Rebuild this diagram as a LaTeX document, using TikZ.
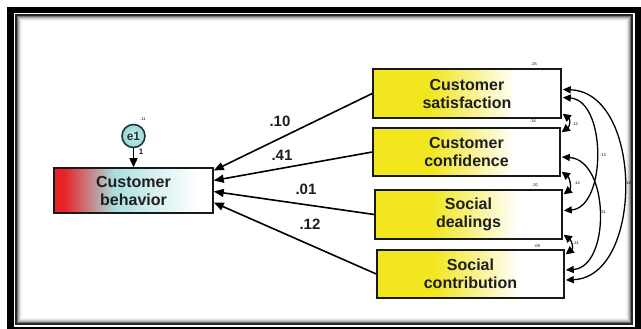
\documentclass[tikz,border=0pt]{standalone}
\usepackage{fontspec}
\setmainfont{Liberation Sans}
\usetikzlibrary{arrows.meta}
\definecolor{yel}{RGB}{242,230,30}
\definecolor{cbred}{RGB}{230,35,40}
\definecolor{cbcyan}{RGB}{170,222,222}
\definecolor{e1fill}{RGB}{150,215,215}
\definecolor{e1line}{RGB}{25,55,55}
\definecolor{txt}{RGB}{30,30,30}
\pgfdeclarehorizontalshading{yelshade}{100bp}{color(0bp)=(yel); color(25bp)=(yel); color(40bp)=(yel); color(63bp)=(white); color(100bp)=(white)}
\pgfdeclarehorizontalshading{cbshade}{100bp}{color(0bp)=(cbred); color(25bp)=(cbred); color(28bp)=(cbred); color(44bp)=(cbcyan); color(56bp)=(cbcyan!50!white); color(70bp)=(white); color(100bp)=(white)}
\begin{document}
\begin{tikzpicture}[x=1pt,y=-1pt,
  box/.style={draw=black!90, line width=1.5pt, inner sep=0pt, align=center,
    font=\fontsize{16}{18}\selectfont\bfseries, text=txt, shade, shading=yelshade},
  pathar/.style={line width=1.6pt, -{Triangle[length=10pt,width=8pt]}},
  cov/.style={line width=1.3pt, {Triangle[length=8pt,width=7pt]}-{Triangle[length=8pt,width=7pt]}},
  covs/.style={line width=1.3pt, {Triangle[length=8pt,width=8pt]}-{Triangle[length=8pt,width=8pt]}},
  coef/.style={font=\fontsize{15}{15}\selectfont\bfseries, text=txt},
  tiny/.style={font=\fontsize{4}{4}\selectfont, text=black, inner sep=0pt}]
\useasboundingbox (0,0) rectangle (641,329);
% frame
\fill[black] (7,7) rectangle (641,329);
\fill[white] (13.5,13) rectangle (634.5,326.5);
\fill[black!85] (15,14.5) rectangle (633,325);
\fill[white] (17,16.5) rectangle (631,323);
\foreach \i/\c in {0/55,1/35,2/20,3/10,4/4}
  \draw[black!\c, line width=1pt] (17.5+\i,17+\i) rectangle (630.5-\i,322.5-\i);
% nodes
\node[box, minimum width=159pt, minimum height=45pt, shading=cbshade] (cb) at (133.5,190.5) {Customer\\behavior};
\node[box, minimum width=188pt, minimum height=49pt] (cs) at (467,93.5) {Customer\\satisfaction};
\node[box, minimum width=187pt, minimum height=48pt] (cc) at (466.5,152) {Customer\\confidence};
\node[box, minimum width=187pt, minimum height=49pt] (sd) at (468.5,214.5) {Social\\dealings};
\node[box, minimum width=187pt, minimum height=48pt] (sc) at (470.5,274) {Social\\contribution};
\node[circle, draw=e1line, line width=1.6pt, inner color=white!55!e1fill, outer color=e1fill,
  minimum size=23pt, inner sep=0pt, font=\fontsize{12}{12}\selectfont\bfseries, text=e1line] (e1) at (133.5,136) {e1};
% error arrow
\draw[line width=1.4pt, -{Triangle[length=9pt,width=8pt]}] (e1) -- (cb);
\node[font=\fontsize{8}{8}\selectfont\bfseries, text=txt, inner sep=0pt] (one) at (141,152) {1};
\node[tiny] (r0) at (143,119) {.11};
% paths
\draw[pathar] (cs.west) -- ([yshift=20pt]cb.east);
\draw[pathar] (cc.west) -- ([yshift=10pt]cb.east);
\draw[pathar] (sd.west) -- ([yshift=-1pt]cb.east);
\draw[pathar] (sc.west) -- ([yshift=-12pt]cb.east);
\node[coef] (p1) at (280,121) {.10};
\node[coef] (p2) at (282,155) {.41};
\node[coef] (p3) at (306,189) {.01};
\node[coef] (p4) at (310,224) {.12};
% covariances
\draw[cov] ([xshift=1pt,yshift=4pt]cs.east) .. controls +(81,3) and +(78,-3) .. ([xshift=1pt,yshift=-6pt]sc.east);
\draw[cov] ([xshift=1pt,yshift=-4pt]cs.east) .. controls +(44,3) and +(43,-3) .. ([xshift=1pt,yshift=4pt]sd.east);
\draw[cov] ([xshift=1pt,yshift=-5pt]cc.east) .. controls +(48,3) and +(45,-3) .. ([xshift=1pt,yshift=4pt]sc.east);
\draw[covs] ([xshift=1pt,yshift=5pt]cs.south east) .. controls +(8,6) and +(8,-6) .. ([xshift=1pt,yshift=-5pt]cc.north east);
\draw[covs] ([xshift=1pt,yshift=5pt]cc.south east) .. controls +(8,6) and +(8,-6) .. ([xshift=1pt,yshift=-5pt]sd.north east);
\draw[covs] ([xshift=1pt,yshift=5pt]sd.south east) .. controls +(8,6) and +(8,-6) .. ([xshift=1pt,yshift=-5pt]sc.north east);
\node[tiny] (c1) at (575,124) {.12};
\node[tiny] (c2) at (577,183) {.14};
\node[tiny] (c3) at (576,243) {.21};
\node[tiny] (c4) at (603,155) {.13};
\node[tiny] (c5) at (603,212) {.21};
\node[tiny] (c6) at (628,183) {.18};
\node[tiny] (v1) at (534,64) {.25};
\node[tiny] (v2) at (533,121) {.34};
\node[tiny] (v3) at (535,185) {.20};
\node[tiny] (v4) at (537,246) {.09};
\end{tikzpicture}
\end{document}
